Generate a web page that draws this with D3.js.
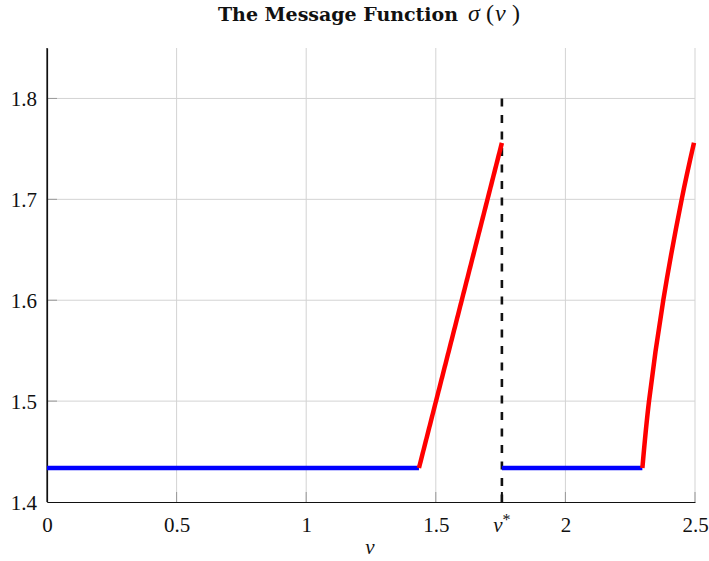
<!DOCTYPE html>
<html>
<head>
<meta charset="utf-8">
<script src="https://cdn.jsdelivr.net/npm/d3@7"></script>
<style>
  html, body { margin: 0; padding: 0; background: #fff; }
  svg { display: block; }
  text { font-family: "Liberation Serif", "DejaVu Serif", serif; fill: #111; }
</style>
</head>
<body>
<svg id="chart" width="709" height="561"></svg>
<script>
// ---- data ----
const xTicks = [0, 0.5, 1, 1.5, 2, 2.5];
const xTickLabels = ["0", "0.5", "1", "1.5", "2", "2.5"];
const yTicks = [1.4, 1.5, 1.6, 1.7, 1.8];
const yTickLabels = ["1.4", "1.5", "1.6", "1.7", "1.8"];
const vStar = 1.755;
const sigmaLow = 1.4337;

// blue flat segments (v, sigma)
const blue1 = [[0, sigmaLow], [1.435, sigmaLow]];
const blue2 = [[1.755, sigmaLow], [2.297, sigmaLow]];
// red rising segments
const red1 = [[1.435, sigmaLow], [1.755, 1.756]];
const red2 = [[2.297, sigmaLow], [2.3226, 1.5], [2.3777, 1.6],
              [2.4487, 1.7], [2.4961, 1.756]];

// ---- layout ----
const svg = d3.select("#chart");
const m = { left: 47, right: 14, top: 48, bottom: 59 };
const W = 709, H = 561;
const x = d3.scaleLinear().domain([0, 2.5]).range([m.left, W - m.right]);
const y = d3.scaleLinear().domain([1.4, 1.85]).range([H - m.bottom, m.top]);

// grid
const g = svg.append("g");
g.selectAll(".gx").data(xTicks.slice(1)).join("line")
  .attr("x1", d => x(d)).attr("x2", d => x(d))
  .attr("y1", y(1.4)).attr("y2", y(1.85))
  .attr("stroke", "#d3d3d3").attr("stroke-width", 1);
g.selectAll(".gy").data(yTicks.slice(1)).join("line")
  .attr("x1", x(0)).attr("x2", x(2.5))
  .attr("y1", d => y(d)).attr("y2", d => y(d))
  .attr("stroke", "#d3d3d3").attr("stroke-width", 1);

// inward tick marks
g.selectAll(".tx").data(xTicks.slice(1)).join("line")
  .attr("x1", d => x(d)).attr("x2", d => x(d))
  .attr("y1", y(1.4)).attr("y2", y(1.4) - 10)
  .attr("stroke", "#999").attr("stroke-width", 1);
g.selectAll(".ty").data(yTicks.slice(1)).join("line")
  .attr("x1", x(0)).attr("x2", x(0) + 10)
  .attr("y1", d => y(d)).attr("y2", d => y(d))
  .attr("stroke", "#999").attr("stroke-width", 1);

// axes (left and bottom only)
const xAxis = d3.axisBottom(x).tickValues(xTicks).tickSize(0)
  .tickFormat((d, i) => xTickLabels[i]).tickPadding(0);
const yAxis = d3.axisLeft(y).tickValues(yTicks).tickSize(0)
  .tickFormat((d, i) => yTickLabels[i]).tickPadding(10);

const gx = svg.append("g").attr("transform", `translate(0,${y(1.4)})`).call(xAxis);
gx.select(".domain").attr("stroke", "#111").attr("stroke-width", 1.2);
gx.selectAll("text").style("font-size", "21px").attr("y", 30).attr("dy", null)
  .style("font-family", "'Liberation Serif', serif");

const gy = svg.append("g").attr("transform", `translate(${x(0)},0)`).call(yAxis);
gy.select(".domain").attr("stroke", "#111").attr("stroke-width", 1.2);
gy.selectAll("text").style("font-size", "21px").attr("dy", "0.34em")
  .style("font-family", "'Liberation Serif', serif");

// left axis extends to top
svg.append("line").attr("x1", x(0)).attr("x2", x(0))
  .attr("y1", y(1.4)).attr("y2", y(1.85)).attr("stroke", "#111").attr("stroke-width", 1.2);

// v* tick and label
svg.append("line").attr("x1", x(vStar)).attr("x2", x(vStar))
  .attr("y1", y(1.4)).attr("y2", y(1.4) - 10).attr("stroke", "#111").attr("stroke-width", 2);
const vs = svg.append("text").attr("x", x(vStar)).attr("y", y(1.4) + 30)
  .attr("text-anchor", "middle").style("font-size", "21px");
vs.append("tspan").text("v").style("font-style", "italic");
vs.append("tspan").text("*").attr("dy", "-7").style("font-size", "16px");

// lines
const line = d3.line().x(d => x(d[0])).y(d => y(d[1]));
const lineC = d3.line().x(d => x(d[0])).y(d => y(d[1])).curve(d3.curveCatmullRom.alpha(0.5));

// dashed vertical at v*
svg.append("line").attr("x1", x(vStar)).attr("x2", x(vStar))
  .attr("y1", y(1.8)).attr("y2", y(1.4))
  .attr("stroke", "#111").attr("stroke-width", 2.6).attr("stroke-dasharray", "8,8.5");

[blue1, blue2].forEach(s => svg.append("path").attr("d", line(s))
  .attr("fill", "none").attr("stroke", "#0000ff").attr("stroke-width", 4.5));
svg.append("path").attr("d", line(red1))
  .attr("fill", "none").attr("stroke", "#ff0000").attr("stroke-width", 4.5)
  .attr("stroke-linejoin", "round");
svg.append("path").attr("d", lineC(red2))
  .attr("fill", "none").attr("stroke", "#ff0000").attr("stroke-width", 4.5);

// title
svg.append("text").attr("x", 218).attr("y", 21)
  .attr("textLength", 240).attr("lengthAdjust", "spacing")
  .style("font-weight", "bold").style("font-family", "'DejaVu Serif', serif")
  .style("font-size", "19px").text("The Message Function");
const t = svg.append("text").attr("y", 21).style("font-size", "24px");
t.append("tspan").attr("x", 468).text("σ").style("font-style", "italic");
t.append("tspan").attr("x", 486).text("(");
t.append("tspan").attr("x", 495).text("v").style("font-style", "italic");
t.append("tspan").attr("x", 512).text(")");

// x label
svg.append("text").attr("x", 370).attr("y", 554).attr("text-anchor", "middle")
  .style("font-size", "21px").style("font-style", "italic").text("v");
</script>
</body>
</html>
